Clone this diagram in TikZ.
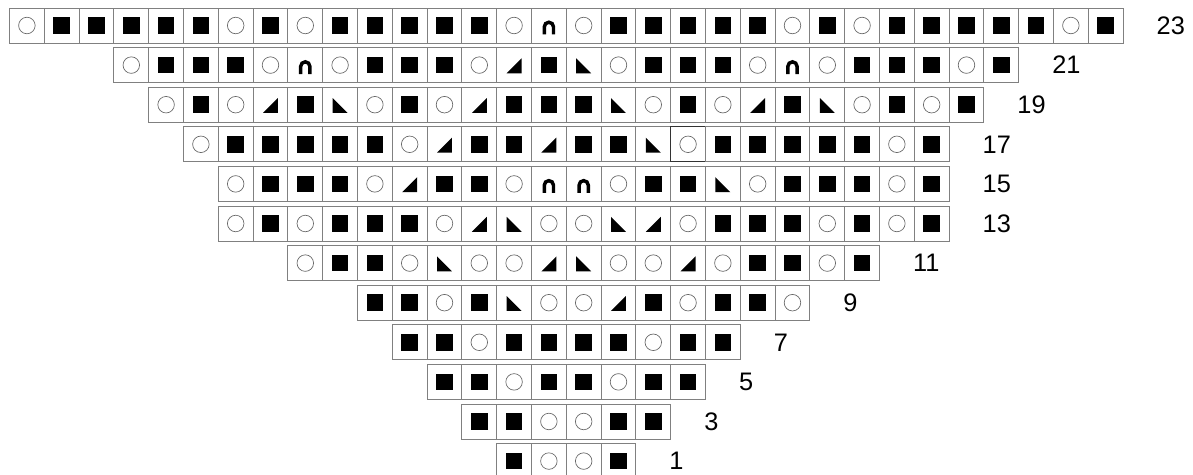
\documentclass[tikz,border=0pt]{standalone}
\usepackage{fontspec}
\setmainfont{Liberation Sans}
\usetikzlibrary{positioning}

\begin{document}
\begin{tikzpicture}[
    x=26.1pt, y=-29.7pt,
    cell/.style={draw=black!50, line width=0.6pt, minimum width=26.1pt, minimum height=26.25pt, inner sep=0pt, outer sep=0pt},
    kn/.style={cell, path picture={\fill[black] ([shift={(-6.2pt,-6.2pt)}]path picture bounding box.center) rectangle ++(12.4pt,12.4pt);}},
    yo/.style={cell, path picture={\draw[black!60, line width=0.5pt] (path picture bounding box.center) circle (6.2pt);}},
    yh/.style={yo, draw=black!80, line width=0.9pt},
    rt/.style={cell, path picture={\fill[black] ([shift={(-5.6pt,-6.2pt)}]path picture bounding box.center) -- ++(11.2pt,0) -- ++(0,11.2pt) -- cycle;}},
    lt/.style={cell, path picture={\fill[black] ([shift={(-5.6pt,-6.2pt)}]path picture bounding box.center) -- ++(11.2pt,0) -- ++(-11.2pt,11.2pt) -- cycle;}},
    nb/.style={cell, path picture={\draw[black, line width=2.6pt] ([shift={(-3.45pt,-6.75pt)}]path picture bounding box.center) -- ++(0,5.75pt) arc[start angle=180, end angle=0, radius=3.45pt] -- ++(0,-5.75pt);}},
    rowlabel/.style={inner sep=0pt, font=\fontsize{19}{21}\selectfont}
]

\useasboundingbox (0.227,-0.644) rectangle (34.51,11.35);

% --- Chart rows, top (23) to bottom (1) ---
\foreach \lab/\sh/\n/\cells [count=\r from 0] in {
  23/0/32/{yo,kn,kn,kn,kn,kn,yo,kn,yo,kn,kn,kn,kn,kn,yo,nb,yo,kn,kn,kn,kn,kn,yo,kn,yo,kn,kn,kn,kn,kn,yo,kn},
  21/3/26/{yo,kn,kn,kn,yo,nb,yo,kn,kn,kn,yo,rt,kn,lt,yo,kn,kn,kn,yo,nb,yo,kn,kn,kn,yo,kn},
  19/4/24/{yo,kn,yo,rt,kn,lt,yo,kn,yo,rt,kn,kn,kn,lt,yo,kn,yo,rt,kn,lt,yo,kn,yo,kn},
  17/5/22/{yo,kn,kn,kn,kn,kn,yo,rt,kn,kn,rt,kn,kn,lt,yh,kn,kn,kn,kn,kn,yo,kn},
  15/6/21/{yo,kn,kn,kn,yo,rt,kn,kn,yo,nb,nb,yo,kn,kn,lt,yo,kn,kn,kn,yo,kn},
  13/6/21/{yo,kn,yo,kn,kn,kn,yo,rt,lt,yo,yo,lt,rt,yo,kn,kn,kn,yo,kn,yo,kn},
  11/8/17/{yo,kn,kn,yo,lt,yo,yo,rt,lt,yo,yo,rt,yo,kn,kn,yo,kn},
  9/10/13/{kn,kn,yo,kn,lt,yo,yo,rt,kn,yo,kn,kn,yo},
  7/11/10/{kn,kn,yo,kn,kn,kn,kn,yo,kn,kn},
  5/12/8/{kn,kn,yo,kn,kn,yo,kn,kn},
  3/13/6/{kn,kn,yo,yo,kn,kn},
  1/14/4/{kn,yo,yo,kn}}
{
    \foreach \c [count=\i] in \cells
        \node[\c] (c\lab-\i) at (\sh+\i,\r) {};
    % --- Row number ---
    \node[rowlabel, right=25pt of c\lab-\n] (l\lab) {\lab};
}

\end{tikzpicture}
\end{document}
